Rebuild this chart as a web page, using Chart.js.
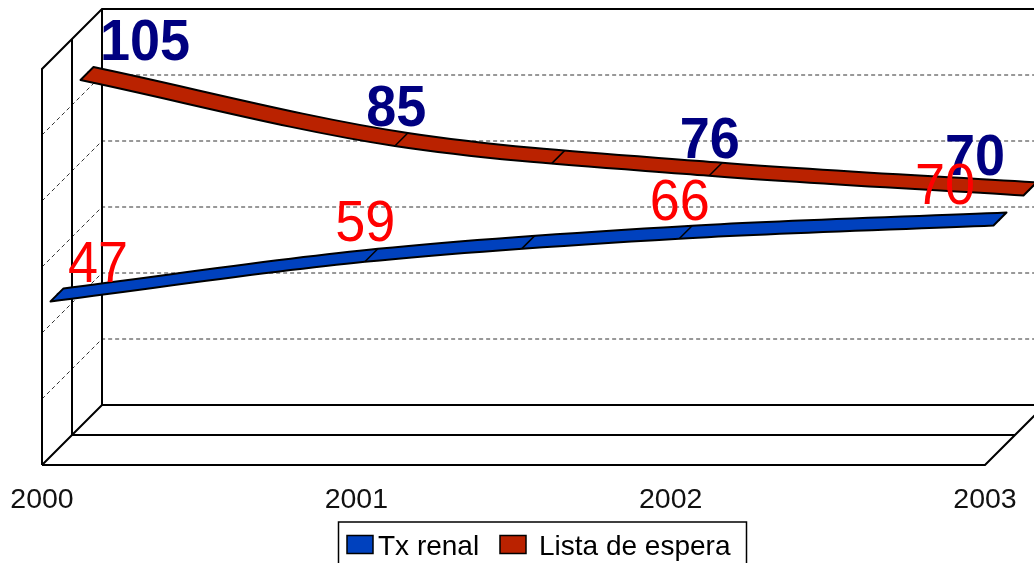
<!DOCTYPE html>
<html>
<head>
<meta charset="utf-8">
<style>html,body{margin:0;padding:0;background:#fff;overflow:hidden}#w{position:relative;width:1034px;height:563px}</style>
<script src="https://cdn.jsdelivr.net/npm/chart.js@4/dist/chart.umd.min.js"></script>
</head>
<body>
<div id="w"><canvas id="c" width="1034" height="563"></canvas></div>
<script>
const categories = ['2000', '2001', '2002', '2003'];
const txRenal = [47, 59, 66, 70];
const listaEspera = [105, 85, 76, 70];
const seriesNames = ['Tx renal', 'Lista de espera'];
const seriesColors = ['#0041BE', '#BA2200'];
const labelColors = ['#FF0000', '#000080'];

const WALL = 60, FONT = 'Arial, "Liberation Sans", sans-serif';
const DEPTH = [15, 45], HALF = 6.5;
const LABEL_SHIFT = [
  [[41,-13],[-6,-14],[-6,-12],[-55,-15]],
  [[58,-14],[-5,-14],[-6,-11],[-55,-14]]
];

function line(ctx, pts, dash, width, color) {
  ctx.save();
  ctx.beginPath();
  ctx.setLineDash(dash || []);
  ctx.lineWidth = width || 2;
  ctx.strokeStyle = color || '#000';
  pts.forEach((p, i) => i ? ctx.lineTo(p[0], p[1]) : ctx.moveTo(p[0], p[1]));
  ctx.stroke();
  ctx.restore();
}

const box3d = {
  id: 'box3d',
  beforeDatasetsDraw(chart) {
    const { ctx, chartArea: a, scales: { y } } = chart;
    const w = chart.width + 80;
    y.ticks.forEach(t => {
      const py = y.getPixelForValue(t.value);
      if (t.value === 0 || t.value === y.max) return;
      line(ctx, [[a.left, py], [a.left + WALL, py - WALL], [w, py - WALL]], [4, 3], 1, '#333');
    });
    const top = y.getPixelForValue(y.max), b = a.bottom;
    line(ctx, [[a.left, b], [a.left, top], [a.left + WALL, top - WALL], [w, top - WALL]]);
    line(ctx, [[a.left + WALL / 2, b - WALL / 2], [a.left + WALL / 2, top - WALL / 2]]);
    line(ctx, [[a.left + WALL, b - WALL], [a.left + WALL, top - WALL]]);
    line(ctx, [[a.left, b], [a.right, b], [a.right + WALL, b - WALL], [w, b - WALL], [a.left + WALL, b - WALL], [a.left, b]]);
    line(ctx, [[a.left + WALL / 2, b - WALL / 2], [a.right + WALL / 2, b - WALL / 2]]);
  }
};

function ribbonEdge(ctx, pts, off, reverse) {
  const seq = reverse ? pts.slice().reverse() : pts;
  ctx.lineTo(seq[0].x + off, seq[0].y - off);
  for (let i = 1; i < seq.length; i++) {
    const prev = seq[i - 1], cur = seq[i];
    const c1 = reverse ? [prev.cp1x, prev.cp1y] : [prev.cp2x, prev.cp2y];
    const c2 = reverse ? [cur.cp2x, cur.cp2y] : [cur.cp1x, cur.cp1y];
    ctx.bezierCurveTo(c1[0] + off, c1[1] - off, c2[0] + off, c2[1] - off, cur.x + off, cur.y - off);
  }
}

const ribbons = {
  id: 'ribbons',
  beforeDatasetDraw(chart, args) {
    const d = DEPTH[args.index];
    chart.ctx.save();
    chart.ctx.translate(d, -d);
  },
  afterDatasetDraw(chart, args) {
    const ctx = chart.ctx;
    const pts = args.meta.data;
    ctx.save();
    ctx.beginPath();
    ctx.moveTo(pts[0].x + HALF, pts[0].y - HALF);
    ribbonEdge(ctx, pts, HALF, false);
    ribbonEdge(ctx, pts, -HALF, true);
    ctx.closePath();
    ctx.fillStyle = seriesColors[args.index];
    ctx.fill();
    ctx.lineWidth = 2;
    ctx.lineJoin = 'round';
    ctx.strokeStyle = '#000';
    ctx.stroke();
    const cross = (x, y) => line(ctx, [[x + HALF, y - HALF], [x - HALF, y + HALF]], [], 1.5);
    cross(pts[1].x, pts[1].y);
    cross(pts[2].x, pts[2].y);
    const p = pts[1], q = pts[2];
    cross((p.x + 3 * p.cp2x + 3 * q.cp1x + q.x) / 8, (p.y + 3 * p.cp2y + 3 * q.cp1y + q.y) / 8);
    ctx.restore();
    ctx.restore();
  },
  afterDatasetsDraw(chart) {
    const ctx = chart.ctx;
    [1, 0].forEach(i => {
      const meta = chart.getDatasetMeta(i);
      meta.data.forEach((pt, k) => {
        const s = LABEL_SHIFT[i][k];
        ctx.save();
        ctx.fillStyle = labelColors[i];
        ctx.font = (i ? 'bold ' : '') + '54px ' + FONT;
        ctx.textAlign = 'center';
        ctx.textBaseline = 'alphabetic';
        ctx.translate(pt.x + DEPTH[i] + s[0], pt.y - DEPTH[i] + s[1]);
        ctx.scale(1, 1.07);
        ctx.fillText(String(chart.data.datasets[i].data[k]), 0, 0);
        ctx.restore();
      });
    });
    // legend
    ctx.save();
    ctx.fillStyle = '#fff';
    ctx.fillRect(338.5, 522, 408, 50);
    line(ctx, [[338.5, 580], [338.5, 522], [746.5, 522], [746.5, 580]], [], 1.5);
    ctx.font = '28px ' + FONT;
    ctx.textBaseline = 'alphabetic';
    ctx.textAlign = 'left';
    [[347, 378], [500, 539]].forEach((x, i) => {
      ctx.fillStyle = seriesColors[i];
      ctx.fillRect(x[0], 535.5, 26, 18);
      ctx.lineWidth = 1.5;
      ctx.strokeStyle = '#000';
      ctx.strokeRect(x[0], 535.5, 26, 18);
      ctx.fillStyle = '#000';
      ctx.fillText(seriesNames[i], x[1], 554.5);
    });
    ctx.restore();
  }
};

new Chart(document.getElementById('c'), {
  type: 'line',
  data: {
    labels: categories,
    datasets: [
      { label: seriesNames[0], data: txRenal, borderColor: seriesColors[0], backgroundColor: seriesColors[0], borderWidth: 4, tension: 0.33, pointRadius: 0, clip: false, fill: false },
      { label: seriesNames[1], data: listaEspera, borderColor: seriesColors[1], backgroundColor: seriesColors[1], borderWidth: 4, tension: 0.33, pointRadius: 0, clip: false, fill: false }
    ]
  },
  options: {
    responsive: false,
    animation: false,
    layout: { padding: { left: 42, right: 49, top: 69, bottom: 0 } },
    plugins: { legend: { display: false }, tooltip: { enabled: false }, title: { display: false } },
    scales: {
      x: {
        offset: false,
        grid: { display: false, drawTicks: false },
        border: { display: false },
        afterFit(s) { s.height = 98; s.paddingLeft = 0; s.paddingRight = 0; },
        ticks: { autoSkip: false, maxRotation: 0, padding: 18, color: '#111', font: { family: FONT, size: 28.5 } }
      },
      y: {
        display: false,
        min: 0,
        max: 120,
        ticks: { stepSize: 20 }
      }
    }
  },
  plugins: [box3d, ribbons]
});
</script>
</body>
</html>
